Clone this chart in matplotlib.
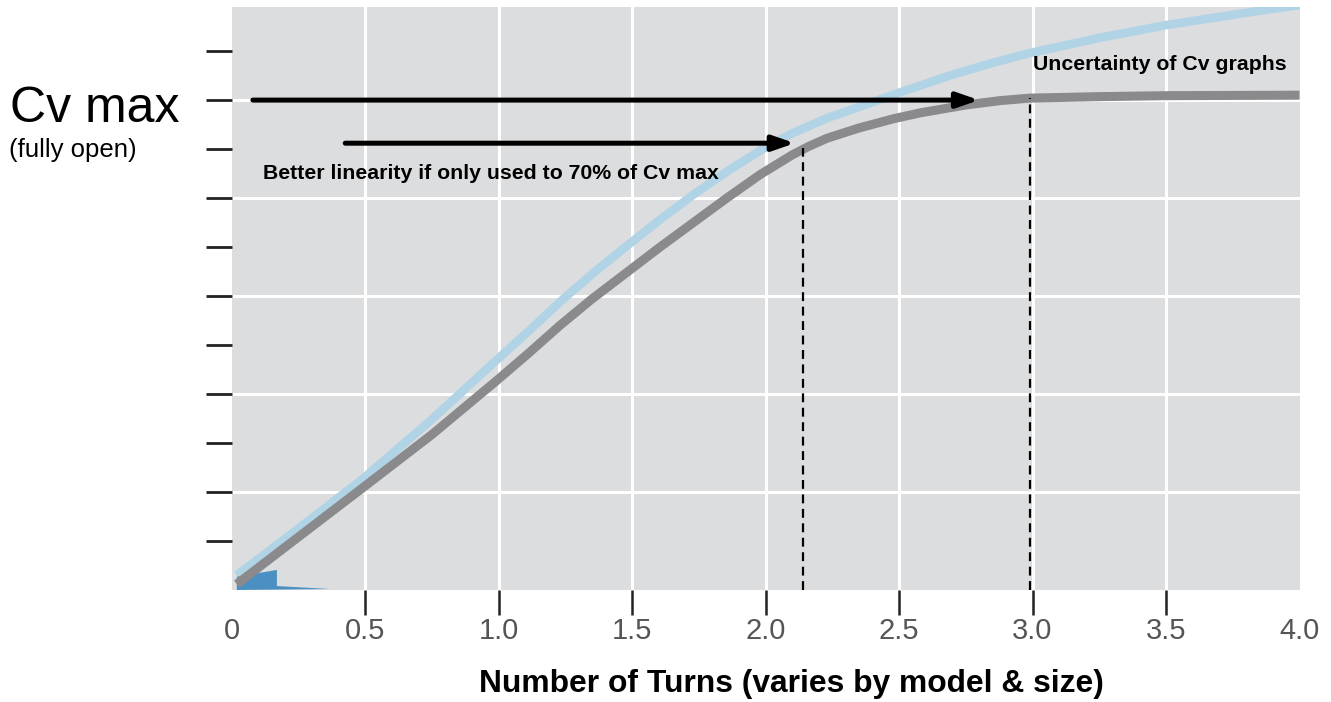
import matplotlib
matplotlib.use("Agg")
import matplotlib.pyplot as plt

# ---------------- data ----------------
blue_x = [0.02, 0.25, 0.49, 0.75, 0.99, 1.11, 1.23, 1.355, 1.48, 1.605, 1.73, 1.855, 1.98,
          2.10, 2.23, 2.35, 2.50, 2.69, 2.85, 2.99, 3.25, 3.50, 3.75, 3.92, 4.00]
blue_y = [0.30, 1.25, 2.26, 3.48, 4.68, 5.27, 5.88, 6.47, 7.02, 7.56, 8.07, 8.54, 8.97,
          9.32, 9.63, 9.86, 10.15, 10.50, 10.76, 10.96, 11.27, 11.53, 11.74, 11.88, 11.94]

gray_x = [0.02, 0.25, 0.49, 0.75, 0.99, 1.11, 1.23, 1.35, 1.48, 1.605, 1.73, 1.855, 1.98,
          2.10, 2.16, 2.23, 2.35, 2.48, 2.58, 2.75, 2.88, 2.99, 3.25, 3.50, 4.00]
gray_y = [0.12, 1.08, 2.08, 3.17, 4.26, 4.82, 5.40, 5.94, 6.48, 7.00, 7.50, 8.00, 8.48,
          8.88, 9.05, 9.22, 9.43, 9.62, 9.74, 9.90, 9.99, 10.04, 10.07, 10.09, 10.10]

wedge_x = [0.02, 0.02, 0.17, 0.17, 0.37]
wedge_y = [0.00, 0.27, 0.41, 0.08, 0.02]

x_major = [0.5, 1.0, 1.5, 2.0, 2.5, 3.0, 3.5]
x_major_labels = ["0.5", "1.0", "1.5", "2.0", "2.5", "3.0", "3.5"]
x_minor = [0.0, 4.0]
x_minor_labels = ["0", "4.0"]
y_ticks = [1, 2, 3, 4, 5, 6, 7, 8, 9, 10, 11]
grid_y = [2, 4, 6, 8, 10]

arrow_long = (0.08, 2.80, 10.0)
arrow_short = (0.426, 2.11, 9.12)
dash_lines = [(2.14, 9.02), (2.99, 10.04)]

# ---------------- figure ----------------
W, H = 1331, 702
fig = plt.figure(figsize=(W / 100, H / 100), dpi=100)
fig.patch.set_facecolor("white")
ax = fig.add_axes([231.5 / W, 1 - 590 / H, (1299.5 - 231.5) / W, (590 - 7) / H])
ax.set_facecolor("#dcdddf")
ax.set_xlim(0, 4.0)
ax.set_ylim(0, 11.9)
for s in ax.spines.values():
    s.set_visible(False)

# grid
for gx in x_major:
    ax.axvline(gx, color="white", lw=2.2, zorder=1)
for gy in grid_y:
    ax.axhline(gy, color="white", lw=2.2, zorder=1)

# curves
ax.plot(blue_x, blue_y, color="#b0d4e6", lw=6.2, solid_capstyle="butt",
        solid_joinstyle="round", zorder=3)
ax.fill(wedge_x, wedge_y, color="#4a90c2", lw=0, zorder=3)
ax.plot(gray_x, gray_y, color="#8a8a8c", lw=6.5, solid_capstyle="butt",
        solid_joinstyle="round", zorder=4)

# dashed verticals
for dx, dy in dash_lines:
    ax.plot([dx, dx], [0, dy], color="black", lw=1.6, ls=(0, (4, 2.5)), zorder=5)

# arrows
for x0, x1, yy in (arrow_long, arrow_short):
    ax.annotate("", xy=(x1, yy), xytext=(x0, yy),
                arrowprops=dict(arrowstyle="-|>,head_length=1.3,head_width=0.45",
                                lw=3.6, color="black", shrinkA=0, shrinkB=0,
                                mutation_scale=10),
                zorder=6)

# ticks
ax.set_xticks(x_major)
ax.set_xticklabels(x_major_labels)
ax.set_xticks(x_minor, minor=True)
ax.set_xticklabels(x_minor_labels, minor=True)
ax.tick_params(axis="x", which="major", length=18, width=1.8, color="#222222",
               direction="out", pad=1.5, labelsize=21, labelcolor="#555555")
ax.tick_params(axis="x", which="minor", length=0, pad=19.5, labelsize=21,
               labelcolor="#555555")
for lab in ax.get_xticklabels() + ax.get_xticklabels(minor=True):
    lab.set_fontfamily("Liberation Sans")

ax.set_yticks(y_ticks)
ax.set_yticklabels([])
ax.tick_params(axis="y", which="major", length=19, width=2.0, color="#222222",
               direction="out")

# texts
fig.text(10 / W, 1 - 122 / H, "Cv max", fontsize=36, family="Liberation Sans",
         va="baseline", ha="left")
fig.text(9 / W, 1 - 157 / H, "(fully open)", fontsize=18.5, family="Liberation Sans",
         va="baseline", ha="left")
fig.text(263 / W, 1 - 179 / H, "Better linearity if only used to 70% of Cv max",
         fontsize=15.3, fontweight="bold", family="Liberation Sans", va="baseline", ha="left")
fig.text(1033 / W, 1 - 70 / H, "Uncertainty of Cv graphs",
         fontsize=15.3, fontweight="bold", family="Liberation Sans", va="baseline", ha="left")
fig.text(791.5 / W, 1 - 692 / H, "Number of Turns (varies by model & size)",
         fontsize=22.9, fontweight="bold", family="Liberation Sans", va="baseline", ha="center")

fig.savefig("out.png", dpi=100, facecolor="white")
